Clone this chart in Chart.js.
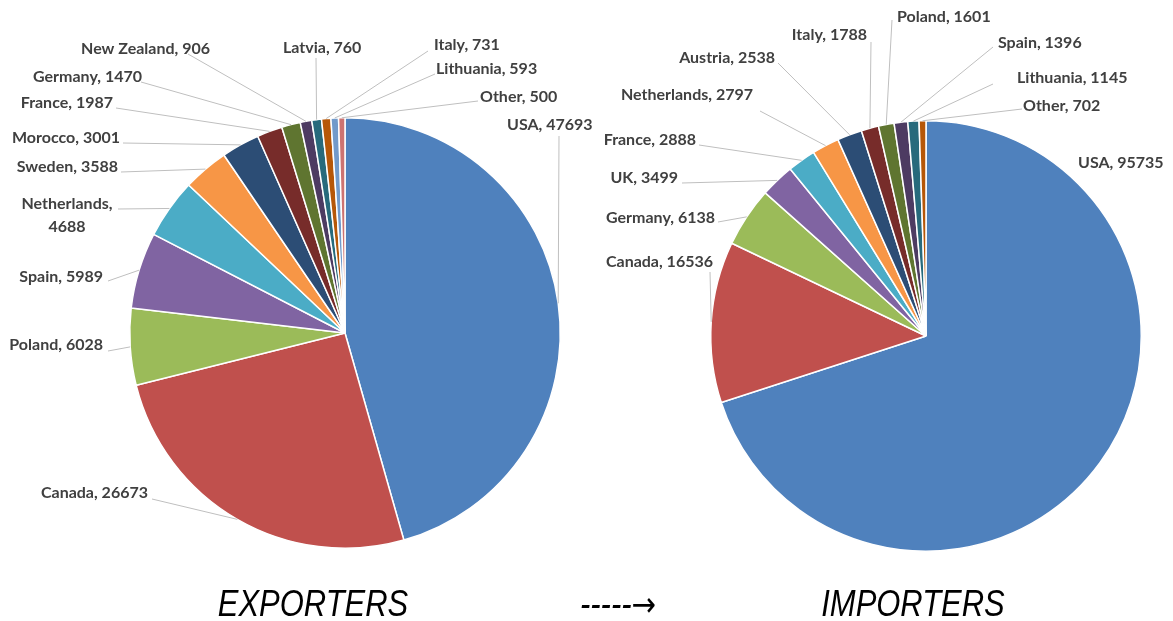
<!DOCTYPE html>
<html>
<head>
<meta charset="utf-8">
<script src="https://cdn.jsdelivr.net/npm/chart.js@4.4.1/dist/chart.umd.min.js"></script>
<style>
  body { margin: 0; background: #fff; }
  #wrap { position: relative; width: 1173px; height: 621px; overflow: hidden; }
  canvas { position: absolute; left: 0; top: 0; }
  .caption {
    position: absolute; top: 584px; width: 240px; text-align: center;
    font-family: "Liberation Sans", Arial, sans-serif;
    font-style: italic; font-size: 36px; color: #000; line-height: 40px;
    transform: scaleX(0.86); transform-origin: center;
  }
  .arrow { font-family: "DejaVu Sans", sans-serif; font-style: normal; font-size: 34px; }
</style>
</head>
<body>
<div id="wrap">
  <canvas id="exportChart" width="1173" height="621"></canvas>
  <canvas id="importChart" width="1173" height="621"></canvas>
  <div class="caption" style="left:193px">EXPORTERS</div>
  <div class="caption" style="left:498px">-----<span class="arrow">&rarr;</span></div>
  <div class="caption" style="left:793px">IMPORTERS</div>
</div>
<script>
// data
var exportCountries = ['USA', 'Canada', 'Poland', 'Spain', 'Netherlands', 'Sweden', 'Morocco',
  'France', 'Germany', 'New Zealand', 'Latvia', 'Italy', 'Lithuania', 'Other'];
var exportValues = [47693, 26673, 6028, 5989, 4688, 3588, 3001, 1987, 1470, 906, 760, 731, 593, 500];

var importCountries = ['USA', 'Canada', 'Germany', 'UK', 'France', 'Netherlands', 'Austria',
  'Italy', 'Poland', 'Spain', 'Lithuania', 'Other'];
var importValues = [95735, 16536, 6138, 3499, 2888, 2797, 2538, 1788, 1601, 1396, 1145, 702];

// excel 2013 palette
var sliceColours = ['#4F81BD', '#C0504D', '#9BBB59', '#8064A2', '#4BACC6', '#F79646', '#2C4D75',
  '#772C2A', '#5F7530', '#4D3B62', '#276A7C', '#B65708', '#729ACA', '#CD7371'];

// label placement: [textX, textY, align, leaderX, leaderY]  (leaderX null = no leader)
var exportLabelPos = [
  [507, 125, 'left', 559, 136],
  [148, 493, 'right', 152, 499],
  [103, 345, 'right', 108, 351],
  [103, 277, 'right', 108, 281],
  [67, 204, 'wrap', 118, 209],
  [118, 167, 'right', 121, 172],
  [120, 138, 'right', 123, 143],
  [113, 103, 'right', 116, 108],
  [142, 77, 'right', 141, 82],
  [210, 49, 'right', 188, 54],
  [283, 48, 'left', 316, 58],
  [434, 45, 'left', 428, 51],
  [436, 69, 'left', 435, 74],
  [480, 97, 'left', 478, 101]
];
var importLabelPos = [
  [1078, 163, 'left', null, null],
  [713, 262, 'right', 710, 272],
  [715, 218, 'right', 718, 222],
  [678, 178, 'right', 682, 183],
  [696, 140, 'right', 699, 145],
  [753, 95, 'right', 760, 111],
  [775, 58, 'right', 778, 63],
  [867, 35, 'right', 871, 42],
  [897, 17, 'left', 892, 20],
  [998, 43, 'left', 993, 47],
  [1017, 78, 'left', 993, 84],
  [1023, 106, 'left', 1022, 109]
];

var outsideLabels = {
  id: 'outsideLabels',
  afterDraw: function(chart) {
    var ctx = chart.ctx;
    var meta = chart.getDatasetMeta(0);
    var layout = chart.options.plugins.outsideLabels.layout;
    var labels = chart.data.labels;
    var values = chart.data.datasets[0].data;
    ctx.save();
    ctx.font = 'bold 16px Lato, "Open Sans", sans-serif';
    ctx.textBaseline = 'middle';
    ctx.fillStyle = '#404040';
    ctx.strokeStyle = '#BFBFBF';
    ctx.lineWidth = 1;
    meta.data.forEach(function(arc, i) {
      var p = layout[i];
      var mid = (arc.startAngle + arc.endAngle) / 2;
      var ex = arc.x + Math.cos(mid) * arc.outerRadius;
      var ey = arc.y + Math.sin(mid) * arc.outerRadius;
      if (p[3] !== null) {
        ctx.beginPath();
        ctx.moveTo(p[3], p[4]);
        ctx.lineTo(ex, ey);
        ctx.stroke();
      }
      if (p[2] == 'wrap') {
        ctx.textAlign = 'center';
        ctx.fillText(labels[i] + ',', p[0], p[1]);
        ctx.fillText(String(values[i]), p[0], p[1] + 23);
      } else {
        ctx.textAlign = p[2];
        ctx.fillText(labels[i] + ', ' + values[i], p[0], p[1]);
      }
    });
    ctx.restore();
  }
};

function makePie(id, labels, values, padding, layout) {
  return new Chart(document.getElementById(id), {
    type: 'pie',
    data: {
      labels: labels,
      datasets: [{
        data: values,
        backgroundColor: sliceColours.slice(0, values.length),
        borderColor: '#FFFFFF',
        borderWidth: 1.5
      }]
    },
    options: {
      responsive: false,
      animation: false,
      layout: { padding: padding },
      plugins: {
        legend: { display: false },
        tooltip: { enabled: false },
        outsideLabels: { layout: layout }
      }
    },
    plugins: [outsideLabels]
  });
}

makePie('exportChart', exportCountries, exportValues,
  { left: 129, right: 612, top: 117, bottom: 72 }, exportLabelPos);
makePie('importChart', importCountries, importValues,
  { left: 710, right: 31, top: 120, bottom: 69 }, importLabelPos);
</script>
</body>
</html>
